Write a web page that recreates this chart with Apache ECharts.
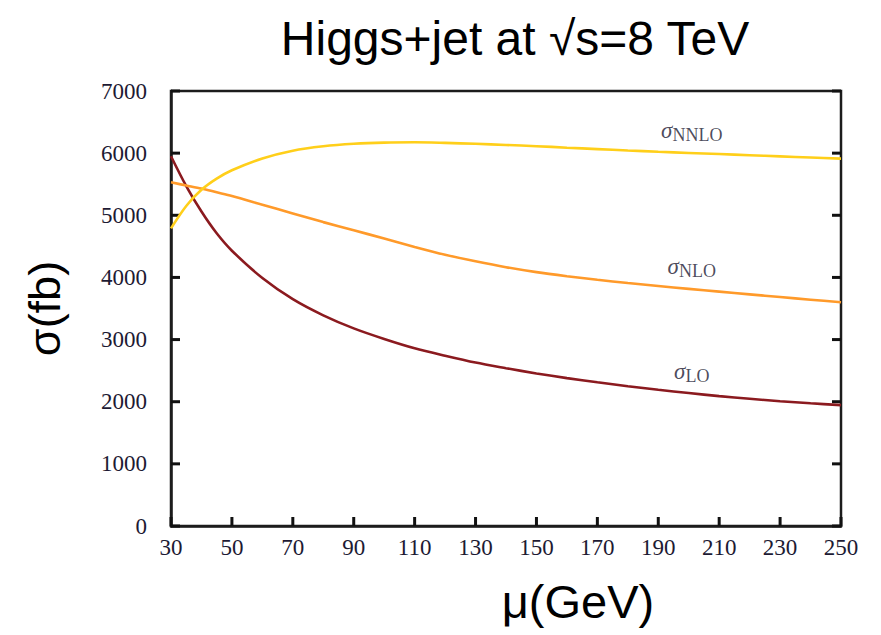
<!DOCTYPE html>
<html>
<head>
<meta charset="utf-8">
<script src="https://cdn.jsdelivr.net/npm/echarts@6/dist/echarts.min.js"></script>
<style>
html,body{margin:0;padding:0;background:#fff;}
#chart{width:881px;height:635px;}
</style>
</head>
<body>
<div id="chart"></div>
<script>
// ---- data ----
const muValues   = [30, 35, 40, 45, 50, 60, 70, 80, 90, 100, 110, 120, 130, 140, 150, 160, 170, 180, 190, 200, 210, 220, 230, 240, 250];
const loValues   = [5950, 5470, 5060, 4710, 4430, 3990, 3650, 3390, 3180, 3010, 2860, 2740, 2630, 2540, 2455, 2380, 2312, 2250, 2192, 2140, 2090, 2048, 2008, 1975, 1945];
const nloValues  = [5530, 5480, 5430, 5370, 5310, 5170, 5030, 4890, 4760, 4625, 4490, 4365, 4260, 4165, 4085, 4020, 3962, 3910, 3862, 3816, 3772, 3728, 3685, 3642, 3600];
const nnloValues = [4790, 5150, 5410, 5590, 5725, 5915, 6040, 6110, 6150, 6170, 6175, 6165, 6150, 6132, 6112, 6088, 6065, 6043, 6022, 6003, 5985, 5966, 5948, 5930, 5912];
const xTickValues = [30, 50, 70, 90, 110, 130, 150, 170, 190, 210, 230, 250];
const yTickValues = [0, 1000, 2000, 3000, 4000, 5000, 6000, 7000];
const xMin = 30, xMax = 250;
const yMin = 0, yMax = 7000, yStep = 1000;
const annotMu    = [201, 201, 201];
const annotSigma = [6360, 4170, 2480];
const annotSub   = ['NNLO', 'NLO', 'LO'];
const titleText = 'Higgs+jet at √s=8 TeV';
const xName = 'μ(GeV)';
const yName = 'σ(fb)';

const zip = (xs, ys) => xs.map((x, i) => [x, ys[i]]);

const serif = '"Liberation Serif", "DejaVu Serif", serif';
const sans = '"Liberation Sans", Arial, sans-serif';
const axisColor = '#1c1c1c';
const labelColor = '#1d1a33';
const TICK_LEN = 9;
const tickLine = {stroke: '#111', lineWidth: 3};

const chart = echarts.init(document.getElementById('chart'), null, {renderer: 'svg'});
chart.setOption({
  animation: false,
  backgroundColor: '#fff',
  title: {
    text: titleText,
    left: 510, top: 9,
    textAlign: 'center',
    textStyle: {fontFamily: sans, fontSize: 48, fontWeight: 'normal', color: '#000'}
  },
  grid: {
    left: 171, right: 40, top: 91, bottom: 109,
    show: true, borderColor: axisColor, borderWidth: 2.5, backgroundColor: 'transparent'
  },
  xAxis: {
    type: 'value', min: xMin, max: xMax,
    name: xName, nameLocation: 'middle', nameGap: 52,
    nameTextStyle: {fontFamily: sans, fontSize: 47, color: '#000', padding: [0, 0, 0, 144]},
    axisLine: {show: true, lineStyle: {color: axisColor, width: 2.5}},
    axisTick: {show: false},
    axisLabel: {show: true, margin: 10, fontFamily: serif, fontSize: 23, color: labelColor, customValues: xTickValues, formatter: v => String(v)},
    splitLine: {show: false}
  },
  yAxis: {
    type: 'value', min: yMin, max: yMax, interval: yStep,
    name: yName, nameLocation: 'middle', nameGap: 104,
    nameTextStyle: {fontFamily: sans, fontSize: 45, color: '#000'},
    axisLine: {show: true, lineStyle: {color: axisColor, width: 2.5}},
    axisTick: {show: false},
    axisLabel: {show: true, margin: 24, fontFamily: serif, fontSize: 23, color: labelColor, formatter: v => String(v)},
    splitLine: {show: false}
  },
  series: [
    {name: 'yTicks', type: 'custom', silent: true, clip: false, z: 1,
     data: yTickValues.map(v => [xMin, v]),
     renderItem: (params, api) => {
       const v = api.value(1);
       const l = api.coord([xMin, v]), r = api.coord([xMax, v]);
       return {type: 'group', children: [
         {type: 'line', shape: {x1: l[0], y1: l[1], x2: l[0] + TICK_LEN, y2: l[1]}, style: tickLine},
         {type: 'line', shape: {x1: r[0] - TICK_LEN, y1: r[1], x2: r[0], y2: r[1]}, style: tickLine}
       ]};
     }},
    {name: 'xTicks', type: 'custom', silent: true, clip: false, z: 1,
     data: xTickValues.map(v => [v, yMin]),
     renderItem: (params, api) => {
       const b = api.coord([api.value(0), yMin]);
       return {type: 'line', shape: {x1: b[0], y1: b[1], x2: b[0], y2: b[1] - TICK_LEN}, style: tickLine};
     }},
    {name: 'LO', type: 'line', data: zip(muValues, loValues), smooth: 0.3, showSymbol: false, symbol: 'none', z: 3,
     lineStyle: {color: '#8b1a1f', width: 2.6}},
    {name: 'NLO', type: 'line', data: zip(muValues, nloValues), smooth: 0.3, showSymbol: false, symbol: 'none', z: 3,
     lineStyle: {color: '#ff9a2a', width: 2.6}},
    {name: 'NNLO', type: 'line', data: zip(muValues, nnloValues), smooth: 0.3, showSymbol: false, symbol: 'none', z: 3,
     lineStyle: {color: '#ffcf1a', width: 2.6}},
    {name: 'labels', type: 'scatter', silent: true, z: 5,
     data: zip(annotMu, annotSigma), symbolSize: 1, itemStyle: {color: 'transparent'},
     label: {
       show: true, position: 'inside',
       formatter: p => '{s|σ}{sub|' + annotSub[p.dataIndex] + '}',
       rich: {
         s: {fontFamily: serif, fontStyle: 'italic', fontSize: 23, color: labelColor, lineHeight: 26, verticalAlign: 'middle'},
         sub: {fontFamily: serif, fontSize: 18, color: labelColor, lineHeight: 26, verticalAlign: 'bottom'}
       }
     }}
  ]
});
</script>
</body>
</html>
